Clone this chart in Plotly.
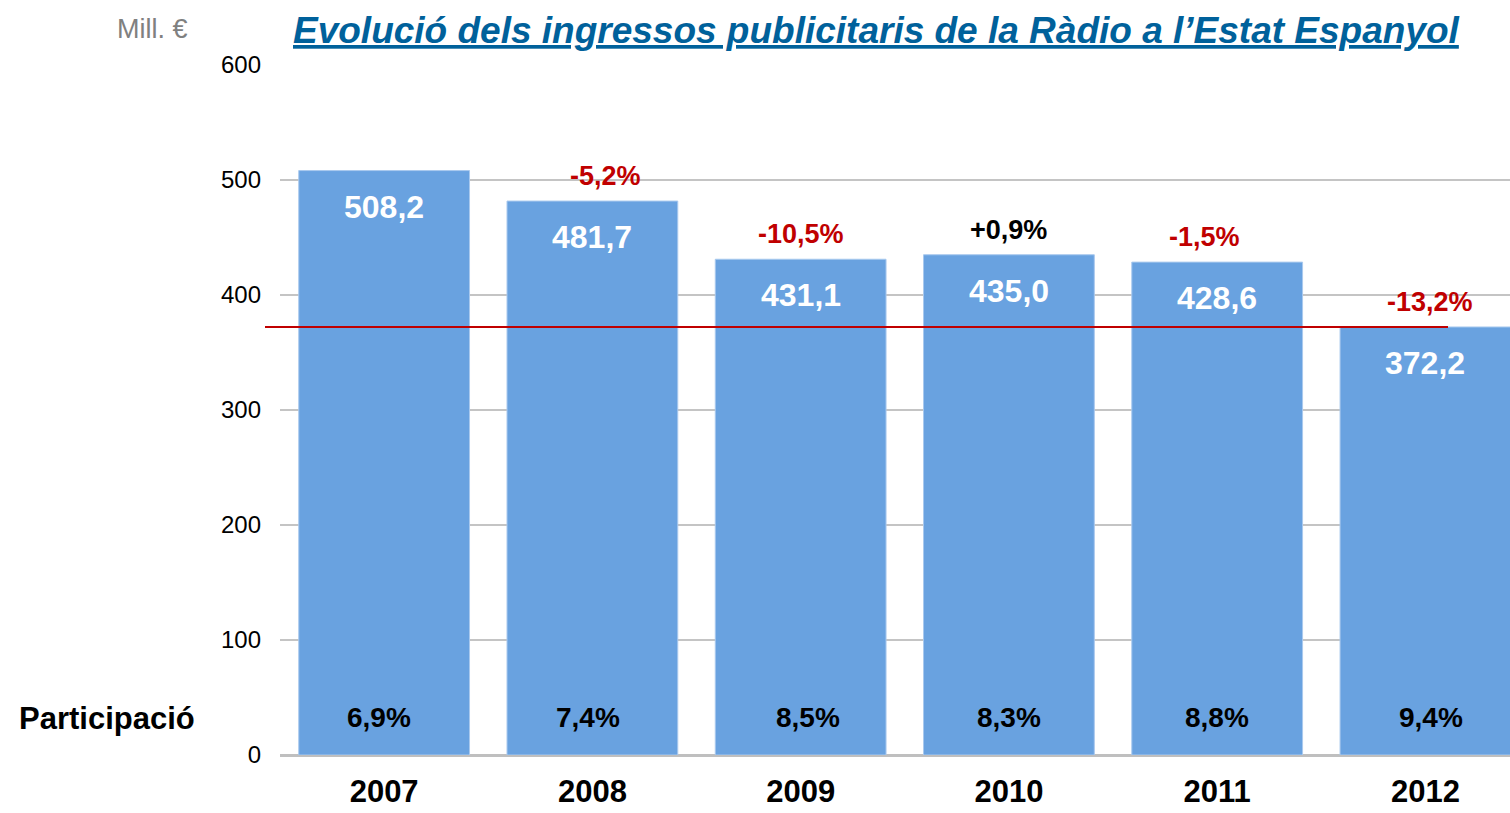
import plotly.graph_objects as go

years = ["2007", "2008", "2009", "2010", "2011", "2012"]
ingressos = [508.2, 481.7, 431.1, 435.0, 428.6, 372.2]
ingressos_txt = ["508,2", "481,7", "431,1", "435,0", "428,6", "372,2"]
variacio = [None, "-5,2%", "-10,5%", "+0,9%", "-1,5%", "-13,2%"]
participacio = ["6,9%", "7,4%", "8,5%", "8,3%", "8,8%", "9,4%"]
y_ticks = [0, 100, 200, 300, 400, 500, 600]

BAR = "#69A2E0"
RED = "#C00000"
SANS = "Liberation Sans, Arial, sans-serif"

W, H = 1510, 813
L, R, T, B = 280, 0, 65, 58
PW, PH = W - L - R, H - T - B


def px(xw):
    return (xw - L) / PW


def py(yw):
    return (H - yw - B) / PH


fig = go.Figure()
fig.add_trace(go.Bar(
    x=list(range(len(years))), y=ingressos,
    marker=dict(color=BAR, line=dict(color="#A9C9EE", width=1)),
    width=0.82, hoverinfo="skip",
))

ann = []
for i, (v, t) in enumerate(zip(ingressos, ingressos_txt)):
    ann.append(dict(x=i, y=v, xref="x", yref="y", text="<b>%s</b>" % t, showarrow=False,
                    yshift=-36, font=dict(family=SANS, size=32, color="white")))
xshifts = [0, 13, 0, 0, -13, 5]
for i, (v, t) in enumerate(zip(ingressos, variacio)):
    if t is None:
        continue
    col = "black" if t.startswith("+") else RED
    ann.append(dict(x=i, y=v, xref="x", yref="y", text="<b>%s</b>" % t, showarrow=False,
                    yshift=25, xshift=xshifts[i], font=dict(family=SANS, size=27, color=col)))
px_shift = [-5, -4, 7, 0, 0, 6]
for i, t in enumerate(participacio):
    ann.append(dict(x=i, y=0, xref="x", yref="y", text="<b>%s</b>" % t, showarrow=False,
                    yshift=38, xshift=px_shift[i], font=dict(family=SANS, size=28, color="black")))
ann.append(dict(x=px(197), y=py(718), xref="paper", yref="paper", text="<b>Participació</b>",
                showarrow=False, xanchor="right", yanchor="middle",
                font=dict(family=SANS, size=31, color="black")))
ann.append(dict(x=px(876), y=py(30), xref="paper", yref="paper",
                text="<b><i><u>Evolució dels ingressos publicitaris de la Ràdio a l’Estat Espanyol</u></i></b>",
                showarrow=False, xanchor="center", yanchor="middle",
                font=dict(family=SANS, size=37, color="#00619B")))
ann.append(dict(x=px(190), y=py(29), xref="paper", yref="paper", text="Mill. €",
                showarrow=False, xanchor="right", yanchor="middle",
                font=dict(family=SANS, size=27, color="#808080")))

fig.update_layout(
    width=W, height=H,
    margin=dict(l=L, r=R, t=T, b=B),
    plot_bgcolor="white", paper_bgcolor="white",
    showlegend=False, bargap=0.18,
    annotations=ann,
    shapes=[dict(type="line", xref="paper", yref="y", x0=px(265), x1=px(1448),
                 y0=ingressos[-1], y1=ingressos[-1],
                 line=dict(color=RED, width=2), layer="above")],
)
fig.update_xaxes(
    range=[-0.5, 5.406], tickmode="array", tickvals=list(range(len(years))), ticktext=years,
    tickfont=dict(family=SANS, size=31, color="black", weight="bold"),
    showgrid=False, showline=False, zeroline=False, ticks="", ticklabelstandoff=15,
    automargin=False,
)
fig.update_yaxes(
    range=[0, 600], tickvals=y_ticks,
    tickfont=dict(family=SANS, size=24, color="black"),
    showgrid=True, gridcolor="#C4C4C4", gridwidth=1.5,
    zeroline=True, zerolinecolor="#BFBFBF", zerolinewidth=3,
    showline=False, ticks="", ticklabelstandoff=18, automargin=False,
)

fig.write_html(
    "out.html",
    config={"displayModeBar": False},
    post_script="document.documentElement.style.margin='0';document.body.style.margin='0';"
                "document.body.style.overflow='hidden';",
)
